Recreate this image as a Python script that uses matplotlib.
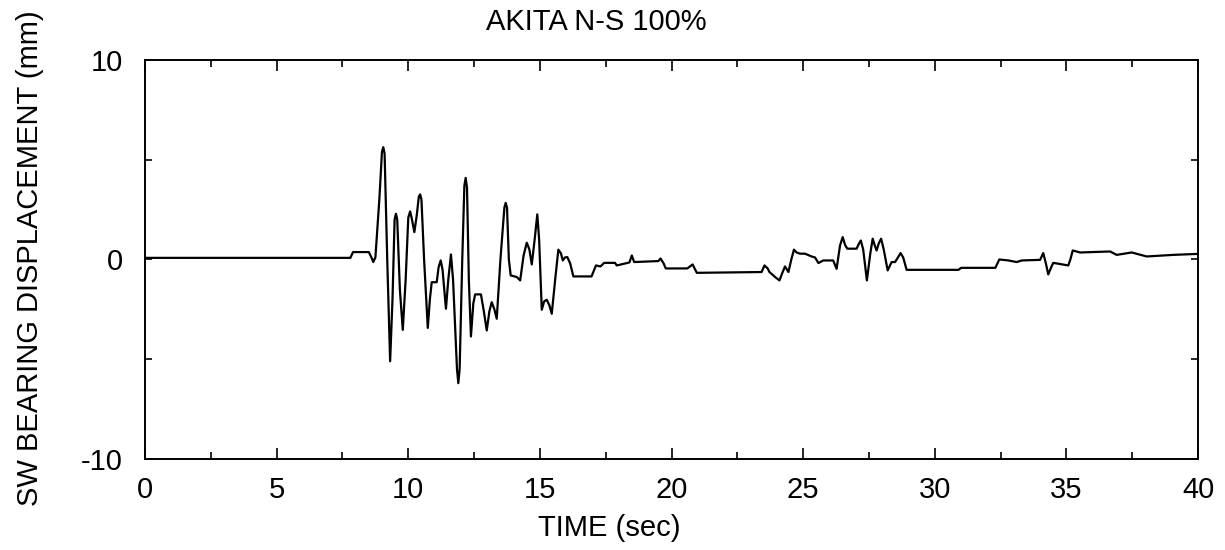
import matplotlib
matplotlib.use("Agg")
import matplotlib.pyplot as plt
from matplotlib.ticker import MultipleLocator, FixedLocator

plt.rcParams['font.family'] = ['Liberation Sans', 'DejaVu Sans']
plt.rcParams['axes.unicode_minus'] = False

time_s = [
    0.0, 7.8, 7.9, 8.5, 8.6, 8.67, 8.75, 8.9, 9.0, 9.05, 9.1, 9.2,
    9.31, 9.4, 9.48, 9.53, 9.58, 9.68, 9.79, 9.9, 10.0, 10.07, 10.14, 10.23,
    10.32, 10.4, 10.45, 10.5, 10.6, 10.74, 10.82, 10.89, 11.08, 11.15, 11.23, 11.3,
    11.43, 11.52, 11.62, 11.7, 11.85, 11.9, 11.95, 12.05, 12.13, 12.18, 12.23, 12.3,
    12.38, 12.47, 12.54, 12.76, 12.87, 12.98, 13.08, 13.17, 13.27, 13.36, 13.5, 13.65,
    13.7, 13.75, 13.82, 13.89, 14.12, 14.25, 14.38, 14.5, 14.6, 14.69, 14.8, 14.9,
    14.97, 15.07, 15.16, 15.26, 15.36, 15.45, 15.58, 15.7, 15.8, 15.87, 15.95, 16.04,
    16.15, 16.27, 16.96, 17.13, 17.3, 17.44, 17.85, 17.92, 18.4, 18.49, 18.58, 19.5,
    19.58, 19.7, 19.78, 20.6, 20.8, 20.96, 23.42, 23.53, 23.65, 23.72, 23.95, 24.1,
    24.2, 24.31, 24.44, 24.55, 24.65, 24.75, 24.88, 25.07, 25.32, 25.45, 25.58, 25.76,
    26.14, 26.27, 26.4, 26.5, 26.6, 26.68, 27.03, 27.12, 27.19, 27.28, 27.42, 27.55,
    27.64, 27.72, 27.79, 27.87, 27.96, 28.06, 28.21, 28.36, 28.49, 28.6, 28.7, 28.8,
    28.93, 30.9, 31.0, 32.3, 32.45, 32.8, 33.11, 33.3, 34.0, 34.12, 34.22, 34.31,
    34.42, 34.5, 35.07, 35.15, 35.24, 35.52, 36.66, 36.91, 37.48, 38.05, 39.06, 40.0,
]
disp_mm = [
    0.08, 0.08, 0.37, 0.37, 0.1, -0.13, 0.1, 3.0, 5.4, 5.63, 5.3, 0.0,
    -5.1, -2.0, 2.0, 2.29, 2.0, -1.5, -3.53, -1.0, 2.1, 2.41, 2.0, 1.37,
    2.2, 3.15, 3.26, 3.0, 0.0, -3.43, -2.0, -1.14, -1.14, -0.4, -0.05, -0.5,
    -2.47, -1.0, 0.25, -1.0, -5.5, -6.2, -5.5, 0.0, 3.7, 4.09, 3.6, -1.0,
    -3.86, -2.2, -1.75, -1.75, -2.6, -3.56, -2.6, -2.14, -2.5, -2.97, 0.0, 2.6,
    2.84, 2.6, 0.0, -0.8, -0.88, -1.05, 0.2, 0.84, 0.5, -0.25, 1.0, 2.26,
    1.0, -2.52, -2.1, -2.02, -2.3, -2.72, -1.0, 0.49, 0.3, -0.05, 0.1, 0.12,
    -0.2, -0.85, -0.85, -0.3, -0.35, -0.17, -0.17, -0.3, -0.15, 0.2, -0.13, -0.08,
    0.05, -0.2, -0.45, -0.45, -0.25, -0.67, -0.63, -0.3, -0.45, -0.63, -0.9, -1.05,
    -0.7, -0.35, -0.63, 0.0, 0.49, 0.35, 0.29, 0.29, 0.15, 0.1, -0.18, -0.05,
    -0.05, -0.47, 0.7, 1.12, 0.7, 0.54, 0.54, 0.8, 0.95, 0.5, -1.05, 0.3,
    1.04, 0.7, 0.45, 0.8, 1.04, 0.5, -0.55, -0.13, -0.13, 0.1, 0.32, 0.1,
    -0.52, -0.52, -0.42, -0.42, 0.0, -0.05, -0.13, -0.05, -0.02, 0.32, -0.2, -0.75,
    -0.4, -0.17, -0.3, 0.0, 0.45, 0.35, 0.4, 0.23, 0.35, 0.15, 0.23, 0.28,
]

x_ticks = [0, 5, 10, 15, 20, 25, 30, 35, 40]
y_labels = [-10, 0, 10]

fig = plt.figure(figsize=(12.25, 5.5), dpi=100)
ax = fig.add_axes([0.1184, 0.1655, 0.8596, 0.7255])

ax.plot(time_s, disp_mm, color="black", lw=1.6)

ax.set_xlim(0, 40)
ax.set_ylim(-10, 10)
ax.xaxis.set_major_locator(FixedLocator(x_ticks))
ax.xaxis.set_minor_locator(MultipleLocator(2.5))
ax.yaxis.set_major_locator(FixedLocator(y_labels))
ax.yaxis.set_minor_locator(FixedLocator([-5, 5]))
ax.tick_params(which="both", direction="in", top=True, right=True, width=1.2, colors="black")
ax.tick_params(axis="x", which="major", length=8, labelsize=21, pad=12)
ax.tick_params(axis="x", which="minor", length=5)
ax.tick_params(axis="y", which="major", length=5, labelsize=21, pad=16)
ax.tick_params(axis="y", which="minor", length=5)
for s in ax.spines.values():
    s.set_linewidth(1.4)

fig.text(0.487, 0.96, "AKITA N-S 100%", ha="center", va="center", fontsize=21)
fig.text(0.497, 0.04, "TIME (sec)", ha="center", va="center", fontsize=21)
fig.text(0.0245, 0.531, "SW BEARING DISPLACEMENT (mm)", rotation=90,
         ha="center", va="center", fontsize=21)

fig.savefig("out.png", dpi=100)
